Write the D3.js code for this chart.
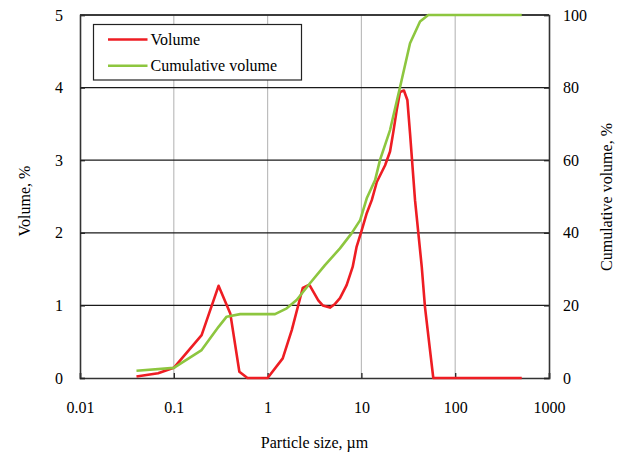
<!DOCTYPE html>
<html><head><meta charset="utf-8">
<script src="https://cdn.jsdelivr.net/npm/d3@7"></script>
<style>body{margin:0;background:#fff}svg text{font-family:"Liberation Serif","Times New Roman",Times,"Nimbus Roman","DejaVu Serif",serif !important;fill:#000}</style>
</head><body><svg id="c" width="623" height="455"></svg>
<script>
const volSize = [0.040,0.068,0.1,0.198,0.30,0.40,0.50,0.61,1.0,1.45,1.81,2.37,2.72,2.83,3.47,3.87,4.62,5.23,5.91,6.96,8.07,8.9,10,11.4,12.9,14.6,17.9,20.2,21.9,23.8,25.8,28.4,30.9,33.0,37.3,44,47.6,53.8,58.4,512];
const volume  = [0.02,0.065,0.14,0.59,1.27,0.89,0.087,0,0,0.27,0.66,1.24,1.28,1.27,1.07,1.0,0.97,1.02,1.10,1.28,1.53,1.81,2.02,2.27,2.45,2.70,2.93,3.12,3.39,3.69,3.94,3.96,3.83,3.37,2.45,1.53,0.98,0.39,0,0];
const cumSize = [0.040,0.1,0.198,0.30,0.366,0.51,1.2,1.6,2.04,2.83,4.09,5.91,7.89,9.7,11.4,14.0,15.8,20.2,25.8,33.0,42.2,51.6,512];
const cumulative = [2.0,2.8,7.7,14.1,16.9,17.6,17.6,19.2,21.5,26.1,31.1,35.7,39.9,43.5,49.5,54.5,60.1,68.3,80.1,92.2,98.2,100,100];
const xTicks = [0.01,0.1,1,10,100,1000];
const xTickLabels = ["0.01","0.1","1","10","100","1000"];
const yLeftTicks = [0,1,2,3,4,5];
const yRightTicks = [0,20,40,60,80,100];
const seriesNames = ["Volume","Cumulative volume"];
const colors = ["#ee1d23","#8dc63f"];
const FONT = '"Liberation Serif","Times New Roman",Times,"Nimbus Roman","DejaVu Serif",serif';

const L=80,R=549,T=15,B=378;
const svg=d3.select("#c");
const x=d3.scaleLog().domain([0.01,1000]).range([L,R]);
const yl=d3.scaleLinear().domain([0,5]).range([B,T]);
const yr=d3.scaleLinear().domain([0,100]).range([B,T]);

svg.append("g").selectAll("line").data(xTicks.slice(1,-1)).join("line")
 .attr("x1",d=>x(d)).attr("x2",d=>x(d)).attr("y1",T).attr("y2",B)
 .attr("stroke","#bdbdbd").attr("stroke-width",1.2);
svg.append("g").selectAll("line").data(yLeftTicks.slice(1)).join("line")
 .attr("x1",L).attr("x2",R).attr("y1",d=>yl(d)).attr("y2",d=>yl(d))
 .attr("stroke","#1a1a1a").attr("stroke-width",1.3);

const xa=svg.append("g").attr("transform",`translate(0,${B})`)
 .call(d3.axisBottom(x).tickValues(xTicks).tickFormat((d,i)=>xTickLabels[i]).tickSize(-5).tickPadding(20));
const yla=svg.append("g").attr("transform",`translate(${L},0)`)
 .call(d3.axisLeft(yl).tickValues(yLeftTicks).tickFormat(d3.format("d")).tickSize(-5).tickPadding(17));
const yra=svg.append("g").attr("transform",`translate(${R},0)`)
 .call(d3.axisRight(yr).tickValues(yRightTicks).tickFormat(d3.format("d")).tickSize(-5).tickPadding(14));
[xa,yla,yra].forEach(g=>{
 g.attr("font-family",FONT).attr("font-size",16);
 g.selectAll("text").attr("font-size",16).attr("fill","#000");
 g.selectAll("line").attr("stroke","#222").attr("stroke-width",1.3);
 g.select(".domain").attr("stroke","#333").attr("stroke-width",1.6);
});
xa.selectAll("text").attr("dy","0.35em").attr("y",29);
svg.append("line").attr("x1",L).attr("x2",R).attr("y1",T).attr("y2",T).attr("stroke","#333").attr("stroke-width",1.6);

const mkLine=(xs,ys,ysc)=>d3.line().x((d,i)=>x(xs[i])).y((d,i)=>ysc(ys[i]));
svg.append("path").datum(volume).attr("d",mkLine(volSize,volume,yl))
 .attr("fill","none").attr("stroke",colors[0]).attr("stroke-width",2.6).attr("stroke-linejoin","round");
svg.append("path").datum(cumulative).attr("d",mkLine(cumSize,cumulative,yr))
 .attr("fill","none").attr("stroke",colors[1]).attr("stroke-width",2.6).attr("stroke-linejoin","round");

const lg=svg.append("g").attr("font-family",FONT);
lg.append("rect").attr("x",93.5).attr("y",24.5).attr("width",208).attr("height",55.5)
 .attr("fill","#fff").attr("stroke","#222").attr("stroke-width",1.2);
seriesNames.forEach((n,i)=>{
 const yy=39.5+i*26.3;
 lg.append("line").attr("x1",108).attr("x2",147.5).attr("y1",yy).attr("y2",yy).attr("stroke",colors[i]).attr("stroke-width",2.6);
 lg.append("text").attr("x",150.5).attr("y",yy+5.5).attr("font-size",16).text(n);
});

const tg=svg.append("g").attr("font-family",FONT).attr("font-size",16);
tg.append("text").attr("x",(L+R)/2).attr("y",448).attr("text-anchor","middle").text("Particle size, µm");
tg.append("text").attr("transform","translate(30,201) rotate(-90)").attr("text-anchor","middle").text("Volume, %");
tg.append("text").attr("transform","translate(612,197) rotate(-90)").attr("text-anchor","middle").text("Cumulative volume, %");
</script></body></html>
